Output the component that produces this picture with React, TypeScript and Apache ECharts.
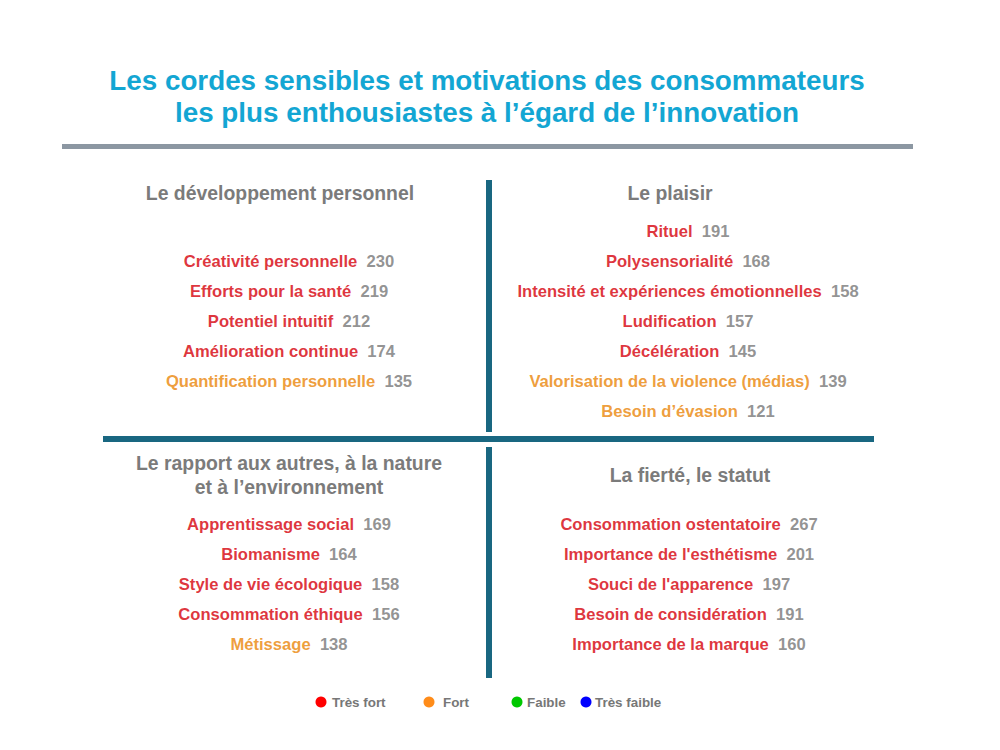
import React, { useEffect, useRef } from "react";
import * as echarts from "echarts";

const FONT = '"Liberation Sans", Arial, sans-serif';

const titleLines = [
  "Les cordes sensibles et motivations des consommateurs",
  "les plus enthousiastes à l’égard de l’innovation",
];

const quadrantTitles = [
  ["Le développement personnel"],
  ["Le plaisir"],
  ["Le rapport aux autres, à la nature", "et à l’environnement"],
  ["La fierté, le statut"],
];

// levels: 0 = Très fort, 1 = Fort, 2 = Faible, 3 = Très faible
const q1Names = [
  "Créativité personnelle",
  "Efforts pour la santé",
  "Potentiel intuitif",
  "Amélioration continue",
  "Quantification personnelle",
];
const q1Values = [230, 219, 212, 174, 135];
const q1Levels = [0, 0, 0, 0, 1];

const q2Names = [
  "Rituel",
  "Polysensorialité",
  "Intensité et expériences émotionnelles",
  "Ludification",
  "Décélération",
  "Valorisation de la violence (médias)",
  "Besoin d’évasion",
];
const q2Values = [191, 168, 158, 157, 145, 139, 121];
const q2Levels = [0, 0, 0, 0, 0, 1, 1];

const q3Names = [
  "Apprentissage social",
  "Biomanisme",
  "Style de vie écologique",
  "Consommation éthique",
  "Métissage",
];
const q3Values = [169, 164, 158, 156, 138];
const q3Levels = [0, 0, 0, 0, 1];

const q4Names = [
  "Consommation ostentatoire",
  "Importance de l'esthétisme",
  "Souci de l'apparence",
  "Besoin de considération",
  "Importance de la marque",
];
const q4Values = [267, 201, 197, 191, 160];
const q4Levels = [0, 0, 0, 0, 0];

const levelNames = ["Très fort", "Fort", "Faible", "Très faible"];
const levelTextColors = ["#D6000A", "#EA8508", "#1FAF1F", "#1133CC"];
const levelDotColors = ["#FF0000", "#FF8C1A", "#00C800", "#0000FF"];

const GRAY = "#777777";

export default function App() {
  const ref = useRef<HTMLDivElement>(null);

  useEffect(() => {
    document.body.style.margin = "0";
    if (!ref.current) return;
    const chart = echarts.init(ref.current, undefined, { renderer: "svg" });

    const quads = [
      { names: q1Names, values: q1Values, levels: q1Levels, cx: 289, top: 246 },
      { names: q2Names, values: q2Values, levels: q2Levels, cx: 688, top: 216 },
      { names: q3Names, values: q3Values, levels: q3Levels, cx: 289, top: 509 },
      { names: q4Names, values: q4Values, levels: q4Levels, cx: 689, top: 509 },
    ];
    const ROW = 30;
    const W = 380;
    const ITEM_FS = 16.6;

    const grids = quads.map((q) => ({
      left: q.cx - W / 2,
      top: q.top,
      width: W,
      height: ROW * q.names.length,
    }));
    const xAxes = quads.map((_, i) => ({
      type: "value",
      gridIndex: i,
      min: -1,
      max: 1,
      show: false,
    }));
    const yAxes = quads.map((q, i) => ({
      type: "category",
      gridIndex: i,
      data: q.names,
      inverse: true,
      show: false,
    }));

    const rich: any = {};
    levelTextColors.forEach((c, i) => {
      rich["n" + i] = { color: c, fontSize: ITEM_FS, fontWeight: "bold", fontFamily: FONT };
    });
    rich.v = { color: GRAY, fontSize: ITEM_FS, fontWeight: "bold", fontFamily: FONT };

    const series: any[] = quads.map((q, i) => ({
      type: "scatter",
      xAxisIndex: i,
      yAxisIndex: i,
      symbolSize: 1,
      itemStyle: { color: "rgba(0,0,0,0)" },
      silent: true,
      data: q.names.map((n, k) => ({
        value: [0, n],
        level: q.levels[k],
        num: q.values[k],
      })),
      label: {
        show: true,
        position: "inside",
        fontSize: ITEM_FS,
        fontWeight: "bold",
        fontFamily: FONT,
        color: GRAY,
        formatter: (p: any) =>
          `{n${p.data.level}|${p.data.value[1]}}  {v|${p.data.num}}`,
        rich,
      },
    }));

    const graphics: any[] = [];
    // Title
    const titleY = [80, 112];
    titleLines.forEach((t, i) => {
      graphics.push({
        type: "text",
        x: 487,
        y: titleY[i],
        style: {
          text: t,
          fill: "#13A6D3",
          font: `bold 27.8px ${FONT}`,
          textAlign: "center",
          textVerticalAlign: "middle",
        },
      });
    });
    // gray rule
    graphics.push({
      type: "rect",
      shape: { x: 62, y: 144, width: 851, height: 5 },
      style: { fill: "#8C97A2" },
    });
    // dividers
    const TEAL = "#196781";
    graphics.push({
      type: "rect",
      shape: { x: 103, y: 436, width: 771, height: 6 },
      style: { fill: TEAL },
    });
    graphics.push({
      type: "rect",
      shape: { x: 486, y: 180, width: 6, height: 252 },
      style: { fill: TEAL },
    });
    graphics.push({
      type: "rect",
      shape: { x: 486, y: 447, width: 6, height: 231 },
      style: { fill: TEAL },
    });
    // quadrant headers
    const headerPos = [
      { x: 280, y: [193] },
      { x: 670, y: [193] },
      { x: 289, y: [463, 487] },
      { x: 690, y: [475] },
    ];
    quadrantTitles.forEach((lines, i) => {
      lines.forEach((t, k) => {
        graphics.push({
          type: "text",
          x: headerPos[i].x,
          y: headerPos[i].y[k],
          style: {
            text: t,
            fill: "#7B7B7B",
            font: `bold 19.4px ${FONT}`,
            textAlign: "center",
            textVerticalAlign: "middle",
          },
        });
      });
    });
    // legend
    const legendDotX = [321, 429, 517, 586];
    const legendTextX = [332, 443, 527, 595];
    levelNames.forEach((n, i) => {
      graphics.push({
        type: "circle",
        shape: { cx: legendDotX[i], cy: 702, r: 5.5 },
        style: { fill: levelDotColors[i] },
      });
      graphics.push({
        type: "text",
        x: legendTextX[i],
        y: 702,
        style: {
          text: n,
          fill: GRAY,
          font: `bold 13.4px ${FONT}`,
          textAlign: "left",
          textVerticalAlign: "middle",
        },
      });
    });

    chart.setOption({
      animation: false,
      backgroundColor: "#ffffff",
      grid: grids,
      xAxis: xAxes,
      yAxis: yAxes,
      series,
      graphic: graphics,
    });

    return () => chart.dispose();
  }, []);

  return <div ref={ref} style={{ width: 1000, height: 750 }} />;
}
